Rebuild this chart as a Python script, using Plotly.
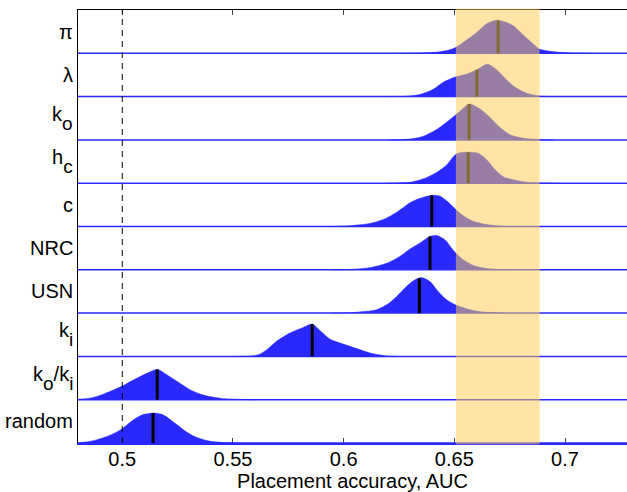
import numpy as np
import plotly.graph_objects as go

# Row labels, bottom to top
SUB = "<sub><span style='font-size:19px;baseline-shift:-5px'>{}</span></sub>"
labels = ["random", "k" + SUB.format("o") + "/k" + SUB.format("i"), "k" + SUB.format("i"), "USN", "NRC", "c",
          "h" + SUB.format("c"), "k" + SUB.format("o"), "λ", "π"]

# AUC sample points and relative densities (fraction of row height)
auc_random = [0.470, 0.4800, 0.4875, 0.4950, 0.5000, 0.5041, 0.5086, 0.5139, 0.5184, 0.5237, 0.5282, 0.5327, 0.5387, 0.5447, 0.5527]
den_random = [0.0, 0.005, 0.06, 0.19, 0.33, 0.50, 0.64, 0.69, 0.65, 0.46, 0.285, 0.15, 0.05, 0.015, 0.0]

auc_kokI = [0.470, 0.4800, 0.4860, 0.4920, 0.5000, 0.5056, 0.5116, 0.5158, 0.5206, 0.5252, 0.5312, 0.5372, 0.5447, 0.5523, 0.5598]
den_kokI = [0.0, 0.01, 0.04, 0.14, 0.315, 0.47, 0.62, 0.70, 0.56, 0.41, 0.215, 0.10, 0.03, 0.01, 0.0]

auc_ki = [0.552, 0.5580, 0.5615, 0.5652, 0.5697, 0.5757, 0.5818, 0.5858, 0.5893, 0.5938, 0.5998, 0.6059, 0.6119, 0.6179, 0.6240]
den_ki = [0.0, 0.01, 0.04, 0.15, 0.35, 0.54, 0.67, 0.745, 0.60, 0.40, 0.285, 0.18, 0.08, 0.02, 0.0]

auc_usn = [0.595, 0.6029, 0.6104, 0.6149, 0.6194, 0.6240, 0.6285, 0.6322, 0.6352, 0.6390, 0.6427, 0.6465, 0.6510, 0.6571, 0.6631, 0.6721]
den_usn = [0.0, 0.01, 0.04, 0.08, 0.19, 0.385, 0.62, 0.77, 0.82, 0.73, 0.50, 0.31, 0.18, 0.08, 0.025, 0.0]

auc_nrc = [0.595, 0.6029, 0.6119, 0.6194, 0.6254, 0.6300, 0.6345, 0.6390, 0.6420, 0.6458, 0.6488, 0.6507, 0.6540, 0.6586, 0.6646, 0.6736]
den_nrc = [0.0, 0.01, 0.05, 0.15, 0.31, 0.48, 0.62, 0.77, 0.79, 0.69, 0.50, 0.385, 0.23, 0.10, 0.03, 0.0]

auc_c = [0.595, 0.6029, 0.6119, 0.6179, 0.6240, 0.6300, 0.6345, 0.6398, 0.6435, 0.6473, 0.6507, 0.6540, 0.6586, 0.6646, 0.6736]
den_c = [0.0, 0.02, 0.07, 0.16, 0.33, 0.55, 0.65, 0.72, 0.70, 0.56, 0.39, 0.25, 0.12, 0.045, 0.0]

auc_hc = [0.620, 0.6300, 0.6360, 0.6420, 0.6465, 0.6507, 0.6533, 0.6563, 0.6608, 0.6646, 0.6684, 0.6721, 0.6766, 0.6827, 0.6884, 0.695]
den_hc = [0.0, 0.02, 0.10, 0.25, 0.42, 0.67, 0.71, 0.715, 0.69, 0.54, 0.31, 0.15, 0.08, 0.02, 0.005, 0.0]

auc_ko = [0.620, 0.6300, 0.6360, 0.6420, 0.6465, 0.6507, 0.6540, 0.6567, 0.6616, 0.6661, 0.6706, 0.6751, 0.6811, 0.6884, 0.695]
den_ko = [0.0, 0.02, 0.085, 0.24, 0.41, 0.58, 0.73, 0.83, 0.715, 0.52, 0.29, 0.12, 0.04, 0.01, 0.0]

auc_lam = [0.620, 0.6285, 0.6345, 0.6405, 0.6450, 0.6503, 0.6556, 0.6602, 0.6649, 0.6691, 0.6736, 0.6782, 0.6827, 0.6884, 0.695]
den_lam = [0.0, 0.01, 0.05, 0.17, 0.33, 0.45, 0.52, 0.62, 0.745, 0.62, 0.385, 0.19, 0.08, 0.015, 0.0]

auc_pi = [0.625, 0.6345, 0.6435, 0.6480, 0.6507, 0.6556, 0.6601, 0.6646, 0.6691, 0.6730, 0.6765, 0.6796, 0.6827, 0.6860, 0.6884, 0.6950, 0.7010, 0.712]
den_pi = [0.0, 0.007, 0.035, 0.08, 0.14, 0.31, 0.48, 0.68, 0.765, 0.72, 0.64, 0.50, 0.35, 0.20, 0.10, 0.035, 0.012, 0.0]

medians = [0.5139, 0.5158, 0.5858, 0.6342, 0.6390, 0.6398, 0.6563, 0.6567, 0.6602, 0.6698]

band_lo, band_hi = 0.6507, 0.6885
chance = 0.5
x_ticks = [0.5, 0.55, 0.6, 0.65, 0.7]
x_tick_text = ["0.5", "0.55", "0.6", "0.65", "0.7"]
x_range = [0.48, 0.728]

curves = [(auc_random, den_random), (auc_kokI, den_kokI), (auc_ki, den_ki), (auc_usn, den_usn),
          (auc_nrc, den_nrc), (auc_c, den_c), (auc_hc, den_hc), (auc_ko, den_ko),
          (auc_lam, den_lam), (auc_pi, den_pi)]

BLUE = "rgb(40,40,255)"
FONT = "Liberation Sans, Arial, Helvetica, sans-serif"

fig = go.Figure()
for i, (xs, ds) in enumerate(curves):
    base = i
    fig.add_trace(go.Scatter(x=x_range, y=[base, base], mode="lines",
                             line=dict(color=BLUE, width=1.5), hoverinfo="skip", showlegend=False))
    fig.add_trace(go.Scatter(x=xs, y=[base + d for d in ds], mode="lines",
                             line=dict(color=BLUE, width=0.5, shape="spline", smoothing=0.8),
                             fill="tonexty", fillcolor=BLUE, hoverinfo="skip", showlegend=False))
    m = medians[i]
    top = base + float(np.interp(m, xs, ds))
    fig.add_trace(go.Scatter(x=[m, m], y=[base, top], mode="lines",
                             line=dict(color="black", width=3), hoverinfo="skip", showlegend=False))
    fig.add_annotation(x=0, xref="paper", y=base + 0.5, yref="y", text=labels[i],
                       showarrow=False, xanchor="right", yanchor="middle", xshift=-3,
                       font=dict(size=20, color="black"))

fig.add_shape(type="line", x0=chance, x1=chance, y0=0, y1=1, xref="x", yref="paper",
              line=dict(color="black", width=1, dash="6px,5px"), layer="above")
fig.add_shape(type="rect", x0=band_lo, x1=band_hi, y0=-0.003, y1=1.003, xref="x", yref="paper",
              fillcolor="rgba(255,204,82,0.52)", line=dict(width=0), layer="above")

fig.update_layout(
    width=627, height=492,
    margin=dict(l=78, r=0, t=10, b=49),
    paper_bgcolor="white", plot_bgcolor="white",
    font=dict(family=FONT, size=20, color="black"),
    xaxis=dict(range=x_range, tickvals=x_ticks, ticktext=x_tick_text, ticks="inside",
               ticklen=5, tickcolor="#444", showgrid=False, zeroline=False,
               showline=True, linecolor=BLUE, linewidth=1.5, layer="below traces",
               ticklabelstandoff=-3,
               title=dict(text="Placement accuracy, AUC", standoff=6, font=dict(size=20)),
               tickfont=dict(size=20)),
    xaxis2=dict(range=x_range, overlaying="x", side="top", tickvals=x_ticks, ticks="inside",
                ticklen=5, tickcolor="#444", showticklabels=False, showgrid=False,
                zeroline=False, showline=True, linecolor="black", linewidth=1),
    yaxis=dict(range=[0, 10], showticklabels=False, ticks="", showgrid=False, zeroline=False,
               showline=True, linecolor="black", linewidth=1),
)
fig.add_trace(go.Scatter(x=[0.6], y=[5], xaxis="x2", mode="markers",
                         marker=dict(opacity=0), hoverinfo="skip", showlegend=False))

fig.write_html("out.html")
